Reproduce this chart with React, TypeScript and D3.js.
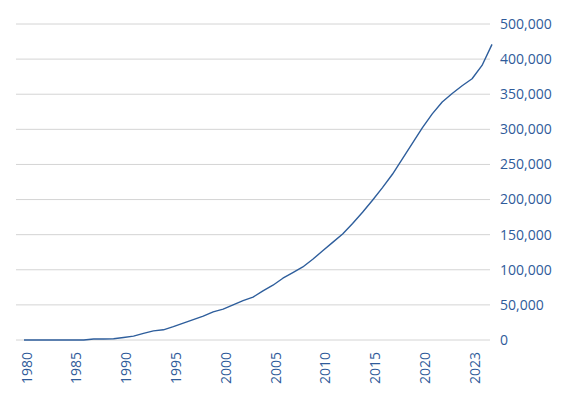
import { useEffect, useRef } from "react";
import * as d3 from "d3";

// values per category slot
const values = [
  0, 0, 0, 0, 0, 0, 0, 1500, 1500, 1700, 3500, 5500, 9500, 13000, 14500, 19000,
  24000, 29000, 34000, 40000, 44000, 50000, 56000, 61000, 70000, 78000, 88000,
  96000, 104000, 115000, 127000, 139000, 151000, 166000, 182000, 199000, 217000,
  236000, 258000, 280000, 302000, 322000, 339000, 351000, 362000, 372000, 391000,
  421000,
];

const xTickSlots = [0, 5, 10, 15, 20, 25, 30, 35, 40, 45];
const xTickLabels = ["1980", "1985", "1990", "1995", "2000", "2005", "2010", "2015", "2020", "2023"];

const yTickValues = [0, 50000, 100000, 150000, 200000, 250000, 300000, 350000, 400000, 450000];
const yTickLabels = ["0", "50,000", "100,000", "150,000", "200,000", "250,000", "300,000", "350,000", "400,000", "500,000"];

const W = 567;
const H = 395;
const FONT = "'Open Sans', 'DejaVu Sans', sans-serif";
const TEXT = "#2f5b9a";
const LINE = "#2e5e9c";

export default function App() {
  const svgRef = useRef<SVGSVGElement>(null);

  useEffect(() => {
    if (!svgRef.current) return;
    const svg = d3.select(svgRef.current);
    svg.selectAll("*").remove();

    const x = d3.scaleLinear().domain([0, values.length - 1]).range([24, 492]);
    const y = d3.scaleLinear().domain([0, 450000]).range([340, 24]);

    // gridlines
    svg
      .append("g")
      .selectAll("line")
      .data(yTickValues)
      .join("line")
      .attr("x1", 16)
      .attr("x2", 490)
      .attr("y1", (d) => y(d))
      .attr("y2", (d) => y(d))
      .attr("stroke", "#d4d4d4")
      .attr("stroke-width", 1);

    // y labels
    svg
      .append("g")
      .selectAll("text")
      .data(yTickValues)
      .join("text")
      .attr("x", 500)
      .attr("y", (d) => y(d))
      .attr("dy", "0.35em")
      .attr("font-family", FONT)
      .attr("font-size", 14)
      .attr("fill", TEXT)
      .text((_, i) => yTickLabels[i]);

    // x labels
    svg
      .append("g")
      .selectAll("text")
      .data(xTickSlots)
      .join("text")
      .attr("transform", (d) => `translate(${x(d)},352) rotate(-90)`)
      .attr("text-anchor", "end")
      .attr("dy", "0.55em")
      .attr("font-family", FONT)
      .attr("font-size", 14)
      .attr("fill", TEXT)
      .text((_, i) => xTickLabels[i]);

    const line = d3
      .line<number>()
      .x((_, i) => x(i))
      .y((d) => y(d));

    svg
      .append("path")
      .datum(values)
      .attr("fill", "none")
      .attr("stroke", LINE)
      .attr("stroke-width", 1.4)
      .attr("stroke-linejoin", "round")
      .attr("d", line);
  }, []);

  return (
    <svg
      ref={svgRef}
      width={W}
      height={H}
      viewBox={`0 0 ${W} ${H}`}
      style={{ position: "absolute", left: 0, top: 0, background: "#fff" }}
    />
  );
}
